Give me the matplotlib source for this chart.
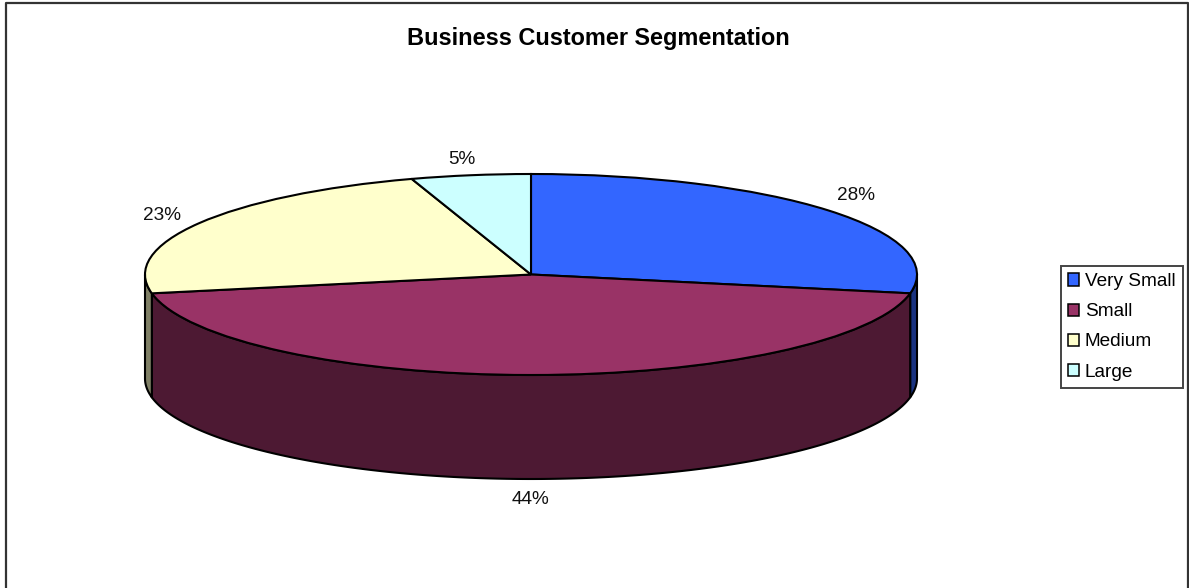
import matplotlib
matplotlib.use("Agg")
import matplotlib.pyplot as plt
import numpy as np

plt.rcParams["font.family"] = ["Liberation Sans", "DejaVu Sans"]

W, H = 1189, 588
CX, CY = 531, 274.5     # pie centre, px
RX, RY = 386, 100.5     # ellipse radii, px
DEPTH = 104             # height of the pie wall, px

categories = ["Very Small", "Small", "Medium", "Large"]
values = [28, 44, 23, 5]
top_colors = ["#3366FF", "#993366", "#FFFFCC", "#CCFFFF"]
wall_colors = ["#1A3380", "#4D1933", "#808066", "#668080"]
label_px = [(856, 196), (530, 500), (162, 216), (462, 159)]


def px(x, y):
    # pixel position -> pie data coordinates (unit circle stretched to the ellipse)
    return (x - CX) / RX, (CY - y) / RY


fig = plt.figure(figsize=(W / 100, H / 100), dpi=100, facecolor="white")
ax = fig.add_axes([0, 0, 1, 1])

depth = DEPTH / RY
edges = np.cumsum([0] + values) / sum(values) * 360

# wall first, only the part facing the viewer (90..270 deg clockwise from the top)
for i, col in enumerate(wall_colors):
    a0, a1 = max(edges[i], 90), min(edges[i + 1], 270)
    if a1 <= a0:
        continue
    t = np.radians(np.linspace(a0, a1, 200))
    xs, ys = np.sin(t), np.cos(t)
    ax.fill(np.r_[xs, xs[::-1]], np.r_[ys, ys[::-1] - depth], facecolor=col,
            edgecolor="black", lw=1.5, joinstyle="round", zorder=1)

wedges, _ = ax.pie(values, startangle=90, counterclock=False, radius=1, colors=top_colors,
                   wedgeprops=dict(edgecolor="black", lw=1.5))
for w in wedges:
    w.set_zorder(2)
ax.set_aspect("auto")
ax.set_xlim(px(0, 0)[0], px(W, 0)[0])
ax.set_ylim(px(0, H)[1], px(0, 0)[1])
ax.axis("off")

for v, (lx, ly) in zip(values, label_px):
    x, y = px(lx, ly)
    ax.text(x, y, f"{v}%", ha="center", va="center", fontsize=13.7, color="#111111")

x, y = px(598, 38)
ax.text(x, y, "Business Customer Segmentation", ha="center", va="center",
        fontsize=16.9, fontweight="bold", color="black")

x, y = px(1061, 266)
leg = ax.legend(wedges, categories, loc="upper left", bbox_to_anchor=(x, y),
                bbox_transform=ax.transData, borderaxespad=0, fancybox=False,
                framealpha=1, edgecolor="#444444", fontsize=13.7, handlelength=0.58,
                handleheight=0.6, handletextpad=0.3, labelspacing=0.69,
                borderpad=0.38)
leg.get_frame().set_linewidth(1.4)
for h in leg.legend_handles:
    h.set_linewidth(1.1)

# outer chart frame: top, left and right only
x0, x1, y0, y1 = 5.5 / W, 1188 / W, 1 - 2.5 / H, 0
fig.add_artist(plt.Line2D([x0, x0, x1, x1], [y1, y0, y0, y1], color="#333333", lw=1.6,
                          transform=fig.transFigure))

fig.savefig("out.png", dpi=100)
